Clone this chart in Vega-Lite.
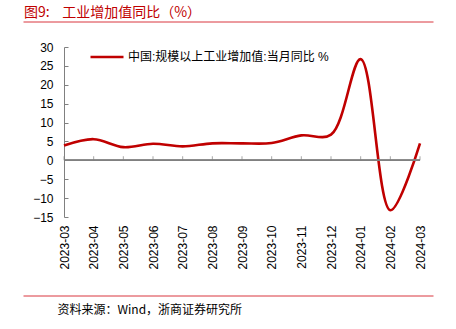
{
  "$schema": "https://vega.github.io/schema/vega-lite/v6.json",
  "width": 356,
  "height": 170,
  "autosize": {"type": "none"},
  "padding": {"left": 64, "top": 47, "right": 36, "bottom": 112},
  "background": "white",
  "config": {
    "view": {"stroke": null},
    "font": "Liberation Sans, Noto Sans CJK SC",
    "axisY": {"labelOverlap": false, "labelFlush": false}
  },
  "title": {
    "text": "图9:\u00a0\u00a0\u00a0\u00a0工业增加值同比（%）",
    "anchor": "start",
    "align": "left",
    "frame": "group",
    "dx": -40,
    "offset": 2,
    "font": "Noto Sans CJK SC",
    "fontSize": 14,
    "fontWeight": "normal",
    "color": "#C00000"
  },
  "datasets": {
    "ip": [
      {"month": "2023-03", "value": 3.9, "series": "中国:规模以上工业增加值:当月同比 %"},
      {"month": "2023-04", "value": 5.6, "series": "中国:规模以上工业增加值:当月同比 %"},
      {"month": "2023-05", "value": 3.5, "series": "中国:规模以上工业增加值:当月同比 %"},
      {"month": "2023-06", "value": 4.4, "series": "中国:规模以上工业增加值:当月同比 %"},
      {"month": "2023-07", "value": 3.7, "series": "中国:规模以上工业增加值:当月同比 %"},
      {"month": "2023-08", "value": 4.5, "series": "中国:规模以上工业增加值:当月同比 %"},
      {"month": "2023-09", "value": 4.5, "series": "中国:规模以上工业增加值:当月同比 %"},
      {"month": "2023-10", "value": 4.6, "series": "中国:规模以上工业增加值:当月同比 %"},
      {"month": "2023-11", "value": 6.6, "series": "中国:规模以上工业增加值:当月同比 %"},
      {"month": "2023-12", "value": 6.8, "series": "中国:规模以上工业增加值:当月同比 %"},
      {"month": "2024-01", "value": 26.8, "series": "中国:规模以上工业增加值:当月同比 %"},
      {"month": "2024-02", "value": -13.2, "series": "中国:规模以上工业增加值:当月同比 %"},
      {"month": "2024-03", "value": 4.5, "series": "中国:规模以上工业增加值:当月同比 %"}
    ]
  },
  "layer": [
    {
      "data": {"name": "ip"},
      "mark": {"type": "line", "interpolate": "catmull-rom", "strokeWidth": 2.6, "clip": false},
      "encoding": {
        "x": {
          "field": "month", "type": "ordinal",
          "scale": {"type": "point", "padding": 0},
          "axis": {
            "title": null, "domain": false, "ticks": false,
            "labelAngle": -90, "labelPadding": 8,
            "labelFontSize": 12, "labelColor": "#000000",
            "labelFont": "Liberation Sans", "labelOverlap": false
          }
        },
        "y": {
          "field": "value", "type": "quantitative",
          "scale": {"domain": [-15, 30], "nice": false, "zero": false},
          "axis": {
            "title": null, "values": [-15, -10, -5, 0, 5, 10, 15, 20, 25, 30],
            "grid": false, "domainColor": "#808080", "tickColor": "#808080",
            "tickSize": -4, "labelPadding": 15, "labelFontSize": 12,
            "labelColor": "#000000", "labelFont": "Liberation Sans",
            "labelOverlap": false, "labelFlush": false
          }
        },
        "color": {
          "field": "series", "type": "nominal",
          "scale": {"range": ["#C00000"]},
          "legend": {
            "title": null, "orient": "none", "legendX": 25, "legendY": -8,
            "symbolType": "stroke", "symbolSize": 1089, "symbolStrokeWidth": 2.6,
            "labelFontSize": 12, "labelColor": "#000000", "labelOffset": 3,
            "labelFont": "Liberation Sans, Noto Sans CJK SC", "labelLimit": 400
          }
        }
      }
    },
    {
      "data": {"name": "ip"},
      "mark": {"type": "rule", "color": "#808080", "strokeWidth": 1},
      "encoding": {
        "y": {
          "datum": 0, "type": "quantitative",
          "scale": {"domain": [-15, 30], "nice": false, "zero": false},
          "axis": {
            "title": null, "values": [-15, -10, -5, 0, 5, 10, 15, 20, 25, 30],
            "grid": false, "domainColor": "#808080", "tickColor": "#808080",
            "tickSize": -4, "labelPadding": 15, "labelFontSize": 12,
            "labelColor": "#000000", "labelFont": "Liberation Sans",
            "labelOverlap": false, "labelFlush": false
          }
        }
      }
    },
    {
      "data": {"name": "ip"},
      "mark": {"type": "tick", "orient": "vertical", "color": "#808080", "size": 4, "thickness": 1, "yOffset": -2},
      "encoding": {
        "x": {"field": "month", "type": "ordinal", "scale": {"type": "point", "padding": 0}, "axis": null},
        "y": {
          "datum": 0, "type": "quantitative",
          "scale": {"domain": [-15, 30], "nice": false, "zero": false},
          "axis": {
            "title": null, "values": [-15, -10, -5, 0, 5, 10, 15, 20, 25, 30],
            "grid": false, "domainColor": "#808080", "tickColor": "#808080",
            "tickSize": -4, "labelPadding": 15, "labelFontSize": 12,
            "labelColor": "#000000", "labelFont": "Liberation Sans",
            "labelOverlap": false, "labelFlush": false
          }
        }
      }
    },
    {
      "data": {"values": [{"k": 0}]},
      "mark": {"type": "rule", "opacity": 0},
      "encoding": {
        "x": {
          "datum": 0, "type": "quantitative",
          "scale": {"domain": [0, 1], "range": [-41, 369]},
          "axis": {"orient": "top", "offset": 25.5, "domain": true, "domainColor": "#D9363E", "domainWidth": 1, "ticks": false, "labels": false, "grid": false, "title": null}
        }
      }
    },
    {
      "data": {"values": [{"k": 0}]},
      "mark": {"type": "rule", "opacity": 0},
      "encoding": {
        "x": {
          "datum": 0, "type": "quantitative",
          "scale": {"domain": [0, 1], "range": [-41, 369]},
          "axis": {
            "orient": "bottom", "offset": 78.5, "domain": true, "domainColor": "#D9363E", "domainWidth": 1,
            "ticks": false, "labels": false, "grid": false,
            "title": "资料来源：Wind，浙商证券研究所",
            "titleAnchor": "start", "titleAlign": "left", "titleX": -7, "titleY": 18,
            "titleBaseline": "alphabetic", "titleFont": "Noto Sans CJK SC",
            "titleFontSize": 12, "titleFontWeight": "normal", "titleColor": "#000000"
          }
        }
      }
    }
  ],
  "resolve": {"scale": {"x": "independent"}, "axis": {"x": "independent"}}
}
